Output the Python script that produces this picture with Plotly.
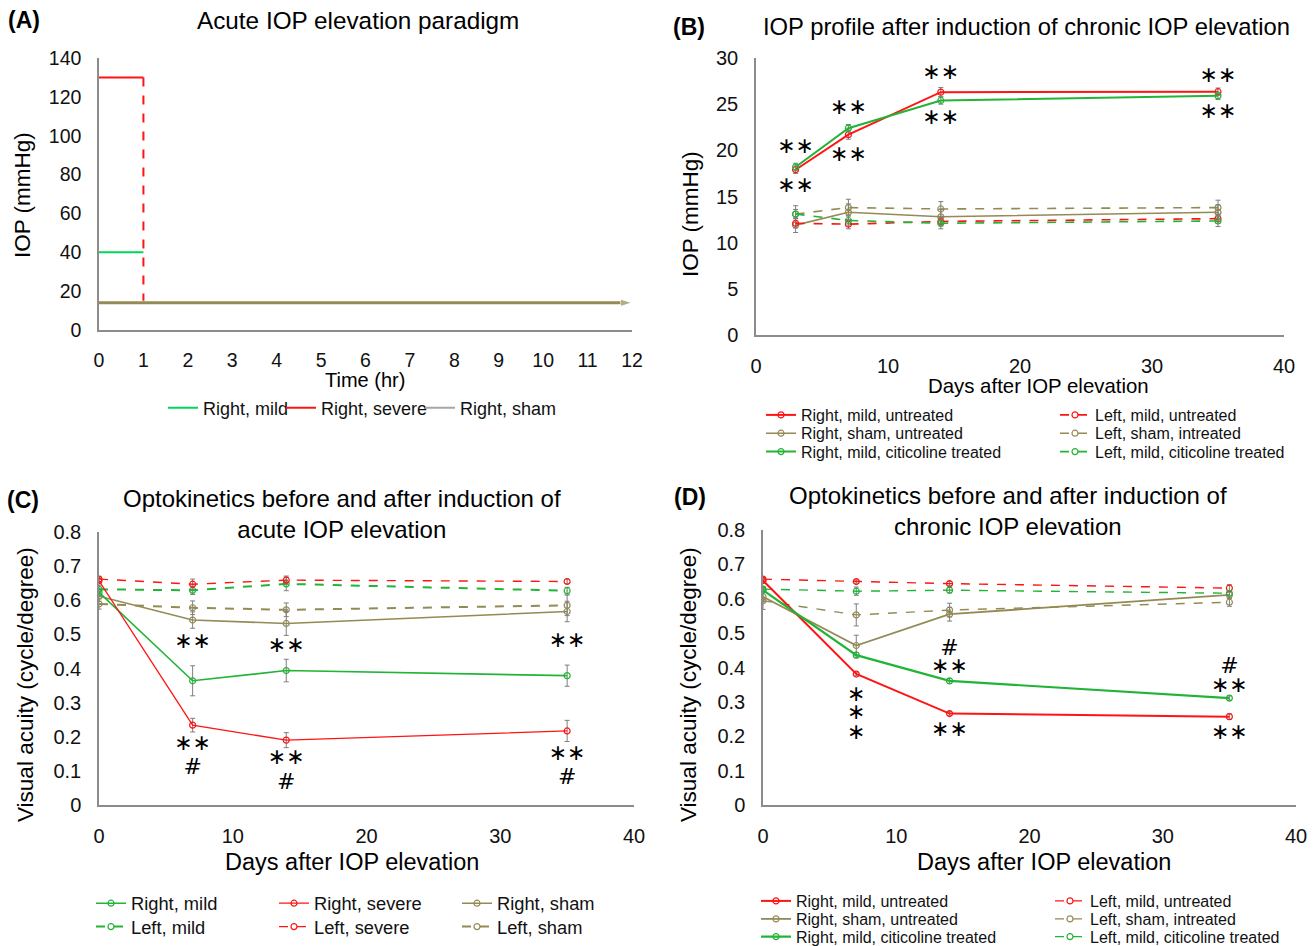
import plotly.graph_objects as go

W, H = 1313, 946
FONT = "Arial, 'Liberation Sans', sans-serif"
SYM = "'DejaVu Sans', sans-serif"

RED = "#FF1414"
GREEN = "#22B436"
GREEN_A = "#00D65C"
OLIVE = "#948A54"
GRAY_LEG = "#A6A6A6"
AXIS_C = "#8C8C8C"
ERR_C = "#7F7F7F"

# ---------------- Panel A: acute paradigm ----------------
a_time_mild = [0, 1]
a_iop_mild = [40, 40]
a_time_severe = [0, 1]
a_iop_severe = [130, 130]
a_time_release = [1, 1]
a_iop_release = [130, 15]
a_time_sham = [0, 12]
a_iop_sham = [14, 14]

# ---------------- Panel B: chronic IOP profile ----------------
b_days = [3, 7, 14, 35]
b_r_mild_untr = [17.9, 21.7, 26.3, 26.35]
b_r_mild_untr_err = [0.4, 0.5, 0.5, 0.4]
b_l_mild_untr = [12.1, 12.0, 12.3, 12.6]
b_l_mild_untr_err = [0.5, 0.5, 0.5, 0.5]
b_r_sham = [11.9, 13.3, 12.8, 13.3]
b_r_sham_err = [0.8, 0.9, 0.8, 0.8]
b_l_sham = [13.1, 13.8, 13.65, 13.8]
b_l_sham_err = [0.9, 0.9, 0.8, 0.8]
b_r_cit = [18.2, 22.4, 25.4, 25.9]
b_r_cit_err = [0.4, 0.4, 0.4, 0.4]
b_l_cit = [13.1, 12.4, 12.1, 12.35]
b_l_cit_err = [0.5, 0.5, 0.6, 0.6]
b_star_days = [3, 3, 7, 7, 14, 14, 35, 35]
b_star_iop = [20.35, 16.1, 24.55, 19.4, 28.35, 23.45, 28.0, 24.1]
b_star_text = ["∗∗"] * 8

# ---------------- Panel C: optokinetics, acute ----------------
c_days = [0, 7, 14, 35]
c_r_mild = [0.623, 0.364, 0.394, 0.379]
c_r_mild_err = [0.01, 0.044, 0.033, 0.031]
c_r_sev = [0.657, 0.234, 0.190, 0.217]
c_r_sev_err = [0.008, 0.02, 0.022, 0.031]
c_r_sham = [0.612, 0.542, 0.532, 0.567]
c_r_sham_err = [0.015, 0.024, 0.035, 0.03]
c_l_mild = [0.632, 0.629, 0.648, 0.628]
c_l_mild_err = [0.012, 0.012, 0.02, 0.01]
c_l_sev = [0.662, 0.647, 0.659, 0.655]
c_l_sev_err = [0.008, 0.015, 0.012, 0.006]
c_l_sham = [0.589, 0.578, 0.572, 0.585]
c_l_sham_err = [0.015, 0.02, 0.02, 0.03]
c_mark_days = [7, 14, 35, 7, 14, 35, 7, 14, 35]
c_mark_va = [0.476, 0.464, 0.479, 0.176, 0.137, 0.149, 0.1075, 0.0636, 0.078]
c_mark_text = ["∗∗", "∗∗", "∗∗", "∗∗", "∗∗", "∗∗", "#", "#", "#"]

# ---------------- Panel D: optokinetics, chronic ----------------
d_days = [0, 7, 14, 35]
d_r_untr = [0.653, 0.381, 0.266, 0.257]
d_r_untr_err = [0.005, 0.005, 0.006, 0.008]
d_r_sham = [0.606, 0.464, 0.555, 0.611]
d_r_sham_err = [0.015, 0.03, 0.02, 0.01]
d_r_cit = [0.625, 0.436, 0.361, 0.311]
d_r_cit_err = [0.006, 0.008, 0.007, 0.006]
d_l_untr = [0.657, 0.650, 0.644, 0.631]
d_l_untr_err = [0.005, 0.005, 0.006, 0.01]
d_l_sham = [0.594, 0.553, 0.567, 0.590]
d_l_sham_err = [0.025, 0.032, 0.02, 0.012]
d_l_cit = [0.628, 0.622, 0.625, 0.616]
d_l_cit_err = [0.008, 0.012, 0.008, 0.008]
d_mark_days = [7, 7, 7, 14, 14, 14, 35, 35, 35]
d_mark_va = [0.320, 0.267, 0.209, 0.453, 0.400, 0.216, 0.400, 0.346, 0.209]
d_mark_text = ["∗", "∗", "∗", "#", "∗∗", "∗∗", "#", "∗∗", "∗∗"]


def px(x):
    return x / W


def py(y):
    return 1 - y / H


fig = go.Figure()

# ---- Panel A traces ----
fig.add_trace(go.Scatter(x=a_time_mild, y=a_iop_mild, mode="lines", name="Right, mild",
                         line=dict(color=GREEN_A, width=2), xaxis="x", yaxis="y",
                         legend="legend", legendwidth=73))
fig.add_trace(go.Scatter(x=a_time_severe, y=a_iop_severe, mode="lines", name="Right, severe",
                         line=dict(color=RED, width=2), xaxis="x", yaxis="y",
                         legend="legend", legendwidth=94))
fig.add_trace(go.Scatter(x=a_time_release, y=a_iop_release, mode="lines", showlegend=False,
                         line=dict(color=RED, width=2, dash="dash"), xaxis="x", yaxis="y"))
fig.add_trace(go.Scatter(x=a_time_sham, y=a_iop_sham, mode="lines+markers", showlegend=False,
                         line=dict(color=OLIVE, width=3),
                         marker=dict(symbol="arrow", size=[0, 12], angleref="previous", color=OLIVE),
                         cliponaxis=False, xaxis="x", yaxis="y"))
fig.add_trace(go.Scatter(x=[None], y=[None], mode="lines", name="Right, sham",
                         line=dict(color=GRAY_LEG, width=2), xaxis="x", yaxis="y",
                         legend="legend"))


def series(x, y, err, color, dash, width, name, xa, ya, leg):
    return go.Scatter(
        x=x, y=y, mode="lines+markers", name=name,
        line=dict(color=color, width=width, dash=dash),
        marker=dict(symbol="circle-open", size=6, color=color, line=dict(width=1.2, color=color)),
        error_y=dict(type="data", array=err, color=ERR_C, thickness=1, width=2.5),
        xaxis=xa, yaxis=ya, legend=leg)


STAR_SIZE = 22

# ---- Panel B traces (legend rows: legend2..legend4) ----
fig.add_trace(series(b_days, b_l_sham, b_l_sham_err, OLIVE, "dash", 1.6, "Left, sham, intreated", "x2", "y2", "legend3"))
fig.add_trace(series(b_days, b_r_sham, b_r_sham_err, OLIVE, "solid", 1.6, "Right, sham, untreated", "x2", "y2", "legend3"))
fig.add_trace(series(b_days, b_l_mild_untr, b_l_mild_untr_err, RED, "dash", 1.6, "Left, mild, untreated", "x2", "y2", "legend2"))
fig.add_trace(series(b_days, b_l_cit, b_l_cit_err, GREEN, "dash", 1.6, "Left, mild, citicoline treated", "x2", "y2", "legend4"))
fig.add_trace(series(b_days, b_r_mild_untr, b_r_mild_untr_err, RED, "solid", 2, "Right, mild, untreated", "x2", "y2", "legend2"))
fig.add_trace(series(b_days, b_r_cit, b_r_cit_err, GREEN, "solid", 2, "Right, mild, citicoline treated", "x2", "y2", "legend4"))
fig.add_trace(go.Scatter(x=b_star_days, y=b_star_iop, mode="text", text=b_star_text,
                         textfont=dict(family=SYM, size=STAR_SIZE, color="black"), showlegend=False,
                         cliponaxis=False, hoverinfo="skip", xaxis="x2", yaxis="y2"))

# ---- Panel C traces (legend rows: legend5, legend6) ----
fig.add_trace(series(c_days, c_l_sham, c_l_sham_err, OLIVE, "dash", 2, "Left, sham", "x3", "y3", "legend6"))
fig.add_trace(series(c_days, c_r_sham, c_r_sham_err, OLIVE, "solid", 1.6, "Right, sham", "x3", "y3", "legend5"))
fig.add_trace(series(c_days, c_l_mild, c_l_mild_err, GREEN, "dash", 2, "Left, mild", "x3", "y3", "legend6"))
fig.add_trace(series(c_days, c_l_sev, c_l_sev_err, RED, "dash", 1.4, "Left, severe", "x3", "y3", "legend6"))
fig.add_trace(series(c_days, c_r_mild, c_r_mild_err, GREEN, "solid", 1.6, "Right, mild", "x3", "y3", "legend5"))
fig.add_trace(series(c_days, c_r_sev, c_r_sev_err, RED, "solid", 1.3, "Right, severe", "x3", "y3", "legend5"))
fig.add_trace(go.Scatter(x=c_mark_days, y=c_mark_va, mode="text", text=c_mark_text,
                         textfont=dict(family=SYM, size=STAR_SIZE, color="black"), showlegend=False,
                         cliponaxis=False, hoverinfo="skip", xaxis="x3", yaxis="y3"))

# ---- Panel D traces (legend rows: legend7..legend9) ----
fig.add_trace(series(d_days, d_l_sham, d_l_sham_err, OLIVE, "dash", 1.4, "Left, sham, intreated", "x4", "y4", "legend8"))
fig.add_trace(series(d_days, d_r_sham, d_r_sham_err, OLIVE, "solid", 1.8, "Right, sham, untreated", "x4", "y4", "legend8"))
fig.add_trace(series(d_days, d_l_untr, d_l_untr_err, RED, "dash", 1.4, "Left, mild, untreated", "x4", "y4", "legend7"))
fig.add_trace(series(d_days, d_l_cit, d_l_cit_err, GREEN, "dash", 1.4, "Left, mild, citicoline treated", "x4", "y4", "legend9"))
fig.add_trace(series(d_days, d_r_untr, d_r_untr_err, RED, "solid", 2, "Right, mild, untreated", "x4", "y4", "legend7"))
fig.add_trace(series(d_days, d_r_cit, d_r_cit_err, GREEN, "solid", 2.2, "Right, mild, citicoline treated", "x4", "y4", "legend9"))
fig.add_trace(go.Scatter(x=d_mark_days, y=d_mark_va, mode="text", text=d_mark_text,
                         textfont=dict(family=SYM, size=STAR_SIZE, color="black"), showlegend=False,
                         cliponaxis=False, hoverinfo="skip", xaxis="x4", yaxis="y4"))

# legend rows need a fixed order: Right entry first, Left entry second
order = {"legend2": ["Right, mild, untreated", "Left, mild, untreated"],
         "legend3": ["Right, sham, untreated", "Left, sham, intreated"],
         "legend4": ["Right, mild, citicoline treated", "Left, mild, citicoline treated"],
         "legend5": ["Right, mild", "Right, severe", "Right, sham"],
         "legend6": ["Left, mild", "Left, severe", "Left, sham"],
         "legend7": ["Right, mild, untreated", "Left, mild, untreated"],
         "legend8": ["Right, sham, untreated", "Left, sham, intreated"],
         "legend9": ["Right, mild, citicoline treated", "Left, mild, citicoline treated"]}
for tr in fig.data:
    lg = tr.legend
    if lg in order and tr.name in order[lg]:
        tr.legendrank = 100 + order[lg].index(tr.name)


def axis(domain, anchor, rng, dtick, size=20):
    return dict(domain=domain, anchor=anchor, range=rng, dtick=dtick, showgrid=False,
                zeroline=False, showline=True, linecolor=AXIS_C, linewidth=1.5, ticks="",
                ticklabelstandoff=12, tickfont=dict(family=FONT, size=size, color="#111"),
                automargin=False, fixedrange=True)


def legend(x_text, y, size, entrywidth=None):
    d = dict(orientation="h", x=px(x_text - 40), y=py(y), xanchor="left", yanchor="middle",
             bgcolor="rgba(0,0,0,0)", font=dict(family=FONT, size=size, color="#111"),
             itemwidth=30, traceorder="normal", tracegroupgap=0)
    if entrywidth is not None:
        d["entrywidth"] = entrywidth
        d["entrywidthmode"] = "pixels"
    return d


def txt(x, y, s, size, angle=0):
    return dict(x=px(x), y=py(y), xref="paper", yref="paper", text=s, showarrow=False,
                font=dict(family=FONT, size=size, color="black"), textangle=angle,
                xanchor="center", yanchor="middle")


annotations = [
    txt(24, 20, "<b>(A)</b>", 23),
    txt(358, 20, "Acute IOP elevation paradigm", 24.3),
    txt(22, 195, "IOP (mmHg)", 22.5, -90),
    txt(365, 380, "Time (hr)", 20),
    txt(689, 27, "<b>(B)</b>", 23),
    txt(1026, 27, "IOP profile after induction of chronic IOP elevation", 23.8),
    txt(690, 214, "IOP (mmHg)", 22.5, -90),
    txt(1038, 386, "Days after IOP elevation", 20.4),
    txt(23, 500, "<b>(C)</b>", 23),
    txt(342, 514, "Optokinetics before and after induction of<br>acute IOP elevation", 24),
    txt(25, 685, "Visual acuity (cycle/degree)", 22.5, -90),
    txt(352, 862, "Days after IOP elevation", 23.5),
    txt(690, 497, "<b>(D)</b>", 23),
    txt(1008, 511, "Optokinetics before and after induction of<br>chronic IOP elevation", 24),
    txt(688, 685, "Visual acuity (cycle/degree)", 22.5, -90),
    txt(1044, 862, "Days after IOP elevation", 23.5),
]

fig.update_layout(
    width=W, height=H, margin=dict(l=0, r=0, t=0, b=0, autoexpand=False),
    paper_bgcolor="white", plot_bgcolor="white",
    font=dict(family=FONT, color="black"),
    showlegend=True,
    xaxis=axis([px(99), px(632)], "y", [0, 12], 1, 19.5),
    yaxis=axis([py(330), py(58)], "x", [0, 140], 20, 19.5),
    xaxis2=axis([px(756), px(1284)], "y2", [0, 40], 10),
    yaxis2=axis([py(335), py(58)], "x2", [0, 30], 5),
    xaxis3=axis([px(99), px(634)], "y3", [0, 40], 10),
    yaxis3=axis([py(805), py(532)], "x3", [0, 0.8], 0.1),
    xaxis4=axis([px(763), px(1296)], "y4", [0, 40], 10),
    yaxis4=axis([py(805), py(530)], "x4", [0, 0.8], 0.1),
    legend=legend(203, 408, 18),
    legend2=legend(801, 415, 16, 249),
    legend3=legend(801, 433.3, 16, 249),
    legend4=legend(801, 451.7, 16, 249),
    legend5=legend(131, 903.3, 18.3, 138),
    legend6=legend(131, 926.7, 18.3, 138),
    legend7=legend(796, 901, 16, 249),
    legend8=legend(796, 919, 16, 249),
    legend9=legend(796, 936.7, 16, 249),
    annotations=annotations,
)

fig.write_html("out.html", config={"displayModeBar": False},
               post_script="document.body.style.margin='0';document.body.style.overflow='hidden';")
